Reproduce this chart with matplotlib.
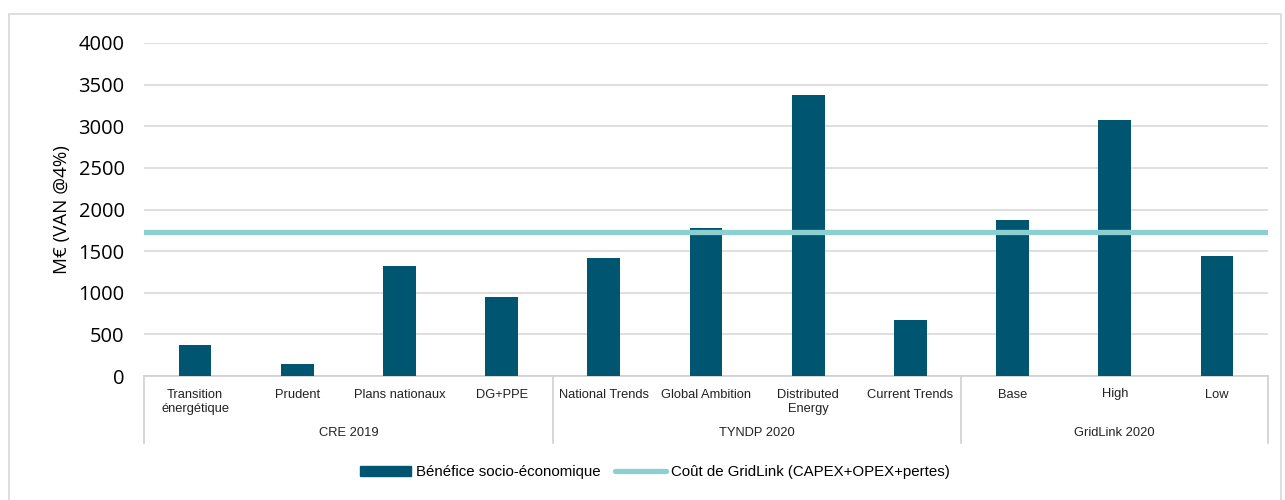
import matplotlib
matplotlib.use("Agg")
import matplotlib.pyplot as plt
import matplotlib.transforms as mtransforms
from matplotlib.patches import Rectangle
from matplotlib.lines import Line2D

categories = ["Transition\nénergétique", "Prudent", "Plans nationaux", "DG+PPE",
              "National Trends", "Global Ambition", "Distributed\nEnergy", "Current Trends",
              "Base", "High", "Low"]
groups = ["CRE 2019", "TYNDP 2020", "GridLink 2020"]
group_sizes = [4, 4, 3]
benefit = [370, 150, 1320, 950, 1420, 1780, 3375, 670, 1870, 3075, 1440]
cost = 1730
yticks = [0, 500, 1000, 1500, 2000, 2500, 3000, 3500, 4000]

bar_color = "#005570"
line_color = "#8ccfd0"
plt.rcParams['font.family'] = ['Liberation Sans Narrow', 'Liberation Sans', 'DejaVu Sans']

fig = plt.figure(figsize=(12.85, 5.0), dpi=100)
ax = fig.add_axes([144/1285, 1-376/500, (1268-144)/1285, (376-43)/500])

x = list(range(len(categories)))
ax.bar(x, benefit, width=0.32, color=bar_color, zorder=3)
ax.axhline(cost, color=line_color, lw=3.8, zorder=4)

ax.set_xlim(-0.5, len(categories)-0.5)
ax.set_ylim(0, 4000)
ax.set_yticks(yticks)
ax.set_yticklabels([str(v) for v in yticks], fontsize=14.5, family=['Open Sans', 'DejaVu Sans'])
ax.tick_params(axis='y', length=0, pad=14)
ax.grid(axis='y', color='#d9d9d9', lw=1.2, zorder=0)
for s in ['top', 'right', 'left']:
    ax.spines[s].set_visible(False)
ax.spines['bottom'].set_color('#d0d0d0')
ax.spines['bottom'].set_linewidth(1.2)

ax.set_xticks(x)
ax.set_xticklabels(categories, fontsize=9.3, color='#222222', linespacing=1.3)
ax.tick_params(axis='x', length=0, pad=9)

fig.text(62/1285, 1-210/500, "M€ (VAN @4%)", rotation=90, ha='center', va='center',
         fontsize=13.5, family=['Open Sans', 'DejaVu Sans'])

trans = mtransforms.blended_transform_factory(ax.transData, ax.transAxes)
sep_bottom = -(443-376)/333
start = -0.5
bounds = [start]
for gs in group_sizes:
    bounds.append(bounds[-1] + gs)
for b in bounds:
    ax.add_line(Line2D([b, b], [0, sep_bottom], transform=trans, color='#d0d0d0', lw=1.2, clip_on=False))
for i, g in enumerate(groups):
    cx = (bounds[i] + bounds[i+1]) / 2
    ax.text(cx, -(433-376)/333, g, transform=trans, ha='center', va='center', fontsize=9.3, color='#222222')

handles = [Rectangle((0, 0), 1, 1, color=bar_color),
           Line2D([0], [0], color=line_color, lw=3.8, solid_capstyle='round')]
fig.legend(handles, ["Bénéfice socio-économique", "Coût de GridLink (CAPEX+OPEX+pertes)"],
           loc='center', bbox_to_anchor=(655/1285, 1-472/500), ncol=2, frameon=False,
           fontsize=10.8, handlelength=3.4, handleheight=0.7, columnspacing=1.0, handletextpad=0.3)

fig.add_artist(Rectangle((9/1285, -0.01), (1281-9)/1285, 1-14/500+0.01, transform=fig.transFigure,
                         fill=False, edgecolor='#d9d9d9', lw=1.2))

fig.savefig("out.png", dpi=100)
